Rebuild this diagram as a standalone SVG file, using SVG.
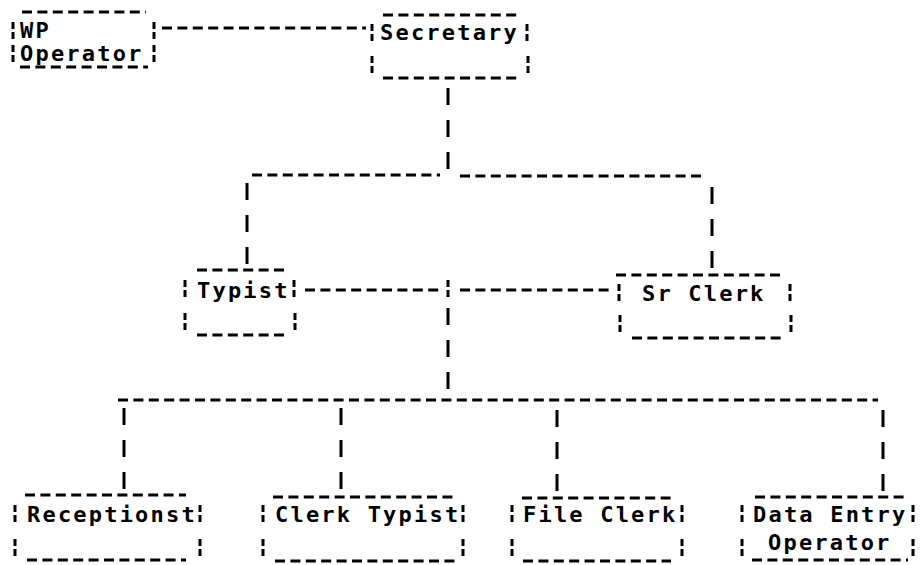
<svg xmlns="http://www.w3.org/2000/svg" width="921" height="565" viewBox="0 0 921 565">
<style>
.h{stroke:#000;stroke-width:3;fill:none;stroke-dasharray:10 5.4}
.v{stroke:#000;stroke-width:3;fill:none;stroke-dasharray:17 15}
.b{stroke:#000;stroke-width:3;fill:none;stroke-dasharray:7 3}
.t{font-family:"DejaVu Sans Mono","Liberation Mono",monospace;font-weight:bold;font-size:22px;letter-spacing:2.2px;fill:#000}
</style>
<rect width="921" height="565" fill="#fff"/>
<g id="connectors">
<line class="h" x1="162" y1="28" x2="366" y2="28"/>
<path class="v" d="M448 88V174"/>
<line class="h" x1="252" y1="175" x2="440" y2="175"/>
<line class="h" x1="460" y1="176" x2="704" y2="176"/>
<path class="v" d="M247 183V269"/>
<path class="v" d="M712 187V273"/>
<line class="h" x1="305" y1="290" x2="440" y2="290"/>
<path class="b" d="M448 280V298"/>
<line class="h" x1="460" y1="290" x2="612" y2="290"/>
<path class="v" d="M448 308V400"/>
<line class="h" x1="118" y1="400" x2="878" y2="400"/>
<path class="v" d="M124 408V494"/>
<path class="v" d="M341 408V494"/>
<path class="v" d="M557 410V496"/>
<path class="v" d="M883 410V496"/>
</g>
<g id="wp-operator">
<line class="h" x1="22" y1="12" x2="146" y2="12"/>
<path class="b" d="M13 22V39M154 22V39M13 45V62M154 45V62"/>
<text class="t" x="20" y="38">WP</text>
<text class="t" x="20" y="61">Operator</text>
<line class="h" x1="20" y1="67" x2="148" y2="67"/>
</g>
<g id="secretary">
<line class="h" x1="383" y1="15" x2="518" y2="15"/>
<path class="b" d="M372 24V42M527 24V42M372 56V74M528 56V74"/>
<text class="t" x="380" y="40">Secretary</text>
<line class="h" x1="383" y1="78" x2="518" y2="78"/>
</g>
<g id="typist">
<line class="h" x1="197" y1="270" x2="284" y2="270"/>
<path class="b" d="M185 280V298M294 280V298M185 313V331M295 313V331"/>
<text class="t" x="197" y="298">Typist</text>
<line class="h" x1="197" y1="335" x2="284" y2="335"/>
</g>
<g id="sr-clerk">
<line class="h" x1="616" y1="275" x2="783" y2="275"/>
<path class="b" d="M619 284V302M790 284V302M620 315V333M791 315V333"/>
<text class="t" x="642" y="301">Sr Clerk</text>
<line class="h" x1="632" y1="338" x2="781" y2="338"/>
</g>
<g id="receptionist">
<line class="h" x1="25" y1="495" x2="186" y2="495"/>
<path class="b" d="M15 505V522M200 505V522M15 539V556M200 539V556"/>
<text class="t" x="27" y="522">Receptionst</text>
<line class="h" x1="27" y1="560" x2="186" y2="560"/>
</g>
<g id="clerk-typist">
<line class="h" x1="273" y1="497" x2="456" y2="497"/>
<path class="b" d="M263 505V522M463 505V522M263 539V556M463 539V556"/>
<text class="t" x="275" y="522">Clerk Typist</text>
<line class="h" x1="275" y1="561" x2="456" y2="561"/>
</g>
<g id="file-clerk">
<line class="h" x1="522" y1="498" x2="671" y2="498"/>
<path class="b" d="M512 505V522M682 505V522M512 539V556M682 539V556"/>
<text class="t" x="523" y="522">File Clerk</text>
<line class="h" x1="523" y1="561" x2="671" y2="561"/>
</g>
<g id="data-entry-operator">
<line class="h" x1="755" y1="497" x2="908" y2="497"/>
<path class="b" d="M742 505V522M913 505V522M742 539V556M913 539V556"/>
<text class="t" x="753" y="522">Data Entry</text>
<text class="t" x="768" y="550">Operator</text>
<line class="h" x1="752" y1="560" x2="908" y2="560"/>
</g>
</svg>
